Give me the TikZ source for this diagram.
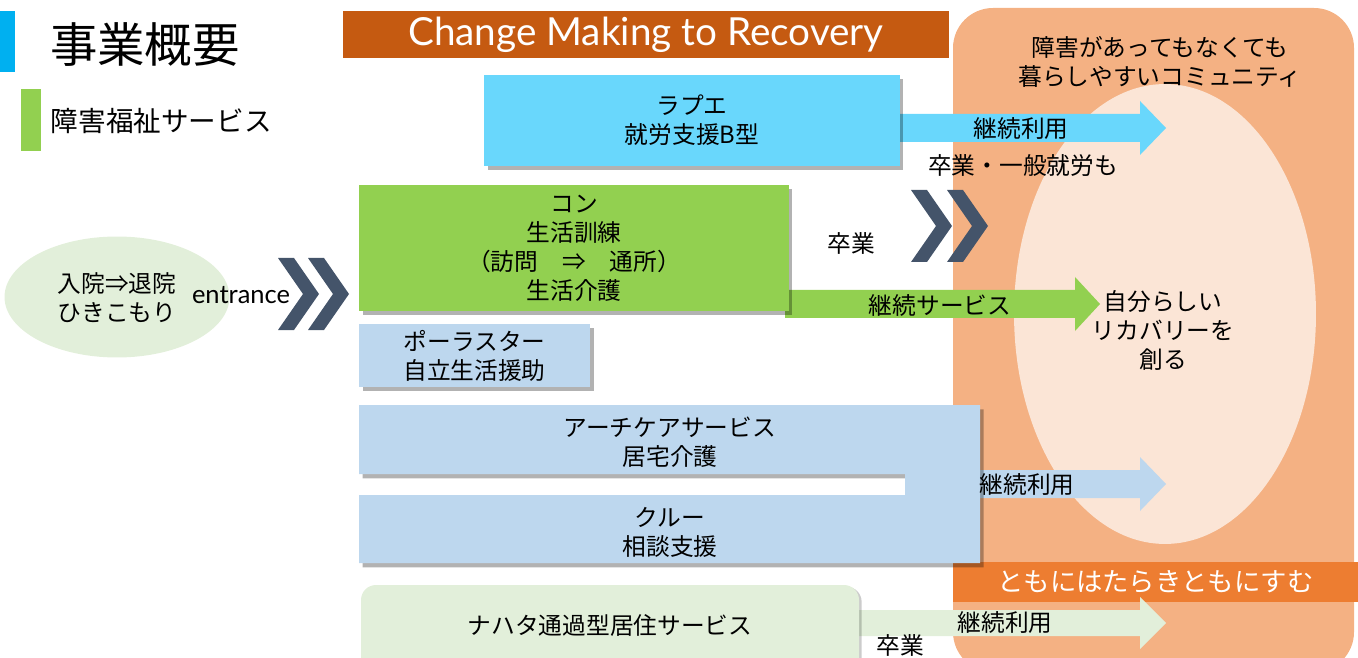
\documentclass[tikz,border=0pt]{standalone}
\usepackage{fontspec}
\setmainfont{Noto Sans CJK JP}
\newfontfamily\latinfont{Lato}
\usetikzlibrary{shadows,shapes.geometric}
\definecolor{cyanbar}{HTML}{00B0F0}
\definecolor{greenbar}{HTML}{92D050}
\definecolor{banner}{HTML}{C55A11}
\definecolor{peach}{HTML}{F4B183}
\definecolor{lightpeach}{HTML}{FBE5D6}
\definecolor{orangebar}{HTML}{ED7D31}
\definecolor{skyb}{HTML}{69D7FC}
\definecolor{paleblue}{HTML}{BDD7EE}
\definecolor{palegreen}{HTML}{E2EFDA}
\definecolor{slate}{HTML}{44546A}
\newcommand\blockarr[7]{\fill[#1] (#2,#5-#6) -- (#3,#5-#6) -- (#3,#5-#7) -- (#4,#5) -- (#3,#5+#7) -- (#3,#5+#6) -- (#2,#5+#6) -- cycle;}
\newcommand\chevr[2]{\fill[slate] (#1,#2) -- ++(16,0) -- ++(25,36) -- ++(-25,36) -- ++(-16,0) -- ++(25,-36) -- cycle;}
\begin{document}
\begin{tikzpicture}[x=0.02cm,y=-0.02cm,
  every node/.style={inner sep=0pt,outer sep=0pt},
  jp/.style={font=\fontsize{13.5}{16.5}\selectfont,align=center,text=black},
  boxshadow/.style={drop shadow={shadow xshift=2pt,shadow yshift=-2.5pt,fill=black,opacity=0.3}},
]
\useasboundingbox (0,0) rectangle (1358,658);
\begin{scope}
\clip (0,0) rectangle (1358,658);
% community area
\fill[peach,rounded corners=0.8cm] (953,8) rectangle (1354,672);
\node[ellipse,fill=lightpeach,minimum width=6.04cm,minimum height=9.2cm] (recov) at (1165,314) {};
\node[jp] (commu) at (1160,62) {障害があってもなくても\\暮らしやすいコミュニティ};
\node[fill=orangebar,minimum width=8.1cm,minimum height=0.8cm,text=white,font=\fontsize{15}{18}\selectfont] (tomoni) at (1155.5,582) {ともにはたらきともにすむ};
% header
\fill[cyanbar] (0,11) rectangle (15,72);
\node[anchor=west,font=\fontsize{27}{30}\selectfont] (title) at (50,45) {事業概要};
\fill[greenbar] (21,89) rectangle (41,151);
\node[anchor=west,font=\fontsize{15.7}{18}\selectfont] (subt) at (51,121) {障害福祉サービス};
\node[fill=banner,minimum width=12.12cm,minimum height=0.94cm,text=white,font=\latinfont\fontsize{22}{24}\selectfont] (banner) at (646,34.5) {Change Making to Recovery};
% entrance
\node[ellipse,fill=palegreen,minimum width=4.5cm,minimum height=2.42cm] (entry) at (117,297) {};
\node[jp,align=left] (entrytxt) at (117,298) {入院⇒退院\\ひきこもり};
\node[font=\latinfont\fontsize{14.5}{16}\selectfont] (entrlab) at (241,295) {entrance};
\chevr{278}{258}
\chevr{308}{258}
% arrows
\blockarr{skyb}{895}{1140}{1166}{128}{14}{27}
\blockarr{greenbar}{785}{1075}{1100}{304}{14}{27}
\blockarr{paleblue}{975}{1140}{1166}{484}{14}{27}
\blockarr{palegreen}{855}{1140}{1166}{623}{13}{26}
% boxes
\node[fill=skyb,boxshadow,minimum width=8.32cm,minimum height=1.82cm,jp] (lapue) at (692,120.5) {ラプエ\\就労支援B型};
\node[fill=greenbar,boxshadow,minimum width=8.6cm,minimum height=2.52cm,jp] (kon) at (574,248) {コン\\生活訓練\\（訪問　⇒　通所）\\生活介護};
\node[fill=paleblue,boxshadow,minimum width=4.62cm,minimum height=1.26cm,jp] (polar) at (474.5,355.5) {ポーラスター\\自立生活援助};
\fill[paleblue,boxshadow] (359,405) -- (980,405) -- (980,563) -- (359,563) -- (359,495) -- (905,495) -- (905,474) -- (359,474) -- cycle;
\node[jp] (arche) at (670,442) {アーチケアサービス\\居宅介護};
\node[jp] (crew) at (670,532) {クルー\\相談支援};
\fill[palegreen,rounded corners=0.3cm,drop shadow={shadow xshift=1.5pt,shadow yshift=-1pt,fill=black,opacity=0.2}] (361,585) rectangle (859,690);
\node[jp] (nahata) at (610,625) {ナハタ通過型居住サービス};
% second chevrons
\chevr{911}{190}
\chevr{947}{190}
% labels
\node[jp] (l1) at (1021,129) {継続利用};
\node[jp] (l2) at (1023,166) {卒業・一般就労も};
\node[jp] (l3) at (851,243) {卒業};
\node[jp] (l4) at (940,305) {継続サービス};
\node[jp] (l5) at (1027,485) {継続利用};
\node[jp] (l6) at (1005,623) {継続利用};
\node[jp] (l7) at (900,645) {卒業};
\node[jp] (self) at (1163,330) {自分らしい\\リカバリーを\\創る};
\end{scope}
\end{tikzpicture}
\end{document}
